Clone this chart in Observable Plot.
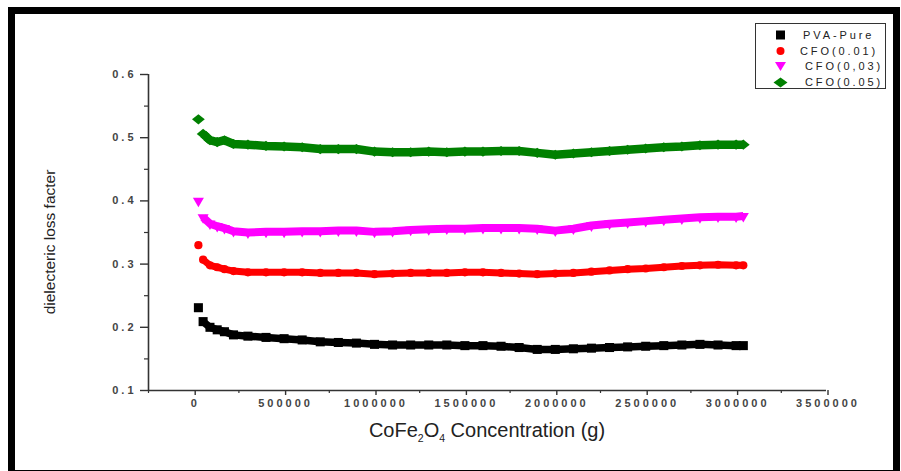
<!DOCTYPE html>
<html>
<head>
<meta charset="utf-8">
<script src="https://cdn.jsdelivr.net/npm/d3@7"></script>
<script src="https://cdn.jsdelivr.net/npm/@observablehq/plot@0.6"></script>
<style>
  html, body { margin: 0; padding: 0; background: #fff; }
  #wrap { position: relative; width: 901px; height: 471px; overflow: hidden; font-family: Arial, "Liberation Sans", sans-serif; }
  #frame { position: absolute; left: 8px; top: 7px; width: 892px; height: 470px; box-sizing: border-box; border: 7px solid #000; }
  #chart { position: absolute; left: 0; top: 0; }
  #chart svg text { font-family: Arial, "Liberation Sans", sans-serif; font-size: 11px; font-weight: bold; letter-spacing: 3px; }
  #ylab { position: absolute; left: 50px; top: 241.5px; transform: translate(-50%, -50%) rotate(-90deg); font-size: 15.5px; line-height: 15.5px; color: #222; white-space: nowrap; }
  #xlab { position: absolute; left: 487px; top: 420px; transform: translateX(-50%); font-size: 20px; line-height: 20px; color: #222; white-space: nowrap; }
  #xlab sub { font-size: 10.5px; vertical-align: -5px; line-height: 0; }
  #legend { position: absolute; left: 755px; top: 23px; width: 131px; height: 66px; box-sizing: border-box; border: 1.5px solid #333; background: #fff; }
  .lrow { position: absolute; left: 0; height: 14px; width: 100%; }
  .lrow svg { position: absolute; left: 17px; top: 0; }
  .lrow span { position: absolute; top: 0; font-size: 11px; line-height: 14px; letter-spacing: 2.9px; color: #222; white-space: nowrap; }
</style>
</head>
<body>
<div id="wrap">
  <div id="frame"></div>
  <div id="chart"></div>
  <div id="ylab">dielecteric loss facter</div>
  <div id="xlab">CoFe<sub>2</sub>O<sub>4</sub> Concentration (g)</div>
  <div id="legend"></div>
</div>
<script>
// ---- data ----
const concentration = [26000, 52000, 90000, 130000, 170000, 220000, 300000, 400000, 500000, 600000,
  700000, 800000, 900000, 1000000, 1100000, 1200000, 1300000, 1400000, 1500000, 1600000,
  1700000, 1800000, 1900000, 2000000, 2100000, 2200000, 2300000, 2400000, 2500000, 2600000,
  2700000, 2800000, 2900000, 3000000, 3040000];
const pvaPure = [0.231, 0.209, 0.200, 0.196, 0.193, 0.188, 0.186, 0.184, 0.182, 0.180,
  0.177, 0.176, 0.175, 0.173, 0.172, 0.172, 0.172, 0.172, 0.171, 0.171,
  0.170, 0.168, 0.165, 0.165, 0.166, 0.167, 0.168, 0.169, 0.170, 0.171,
  0.172, 0.173, 0.172, 0.171, 0.171];
const cfo001 = [0.330, 0.307, 0.298, 0.295, 0.292, 0.289, 0.287, 0.287, 0.287, 0.287,
  0.286, 0.286, 0.286, 0.284, 0.285, 0.286, 0.286, 0.286, 0.287, 0.287,
  0.286, 0.285, 0.284, 0.285, 0.286, 0.288, 0.290, 0.292, 0.293, 0.295,
  0.297, 0.298, 0.299, 0.298, 0.298];
const cfo003 = [0.400, 0.374, 0.364, 0.360, 0.357, 0.352, 0.350, 0.351, 0.351, 0.352,
  0.352, 0.353, 0.353, 0.351, 0.352, 0.354, 0.355, 0.356, 0.356, 0.357,
  0.357, 0.357, 0.356, 0.353, 0.356, 0.361, 0.364, 0.366, 0.368, 0.370,
  0.372, 0.374, 0.375, 0.375, 0.376];
const cfo005 = [0.529, 0.506, 0.496, 0.493, 0.496, 0.490, 0.489, 0.487, 0.486, 0.485,
  0.482, 0.482, 0.482, 0.478, 0.477, 0.477, 0.478, 0.477, 0.478, 0.478,
  0.479, 0.479, 0.476, 0.473, 0.475, 0.477, 0.479, 0.481, 0.483, 0.485,
  0.486, 0.488, 0.489, 0.489, 0.489];
const seriesNames = ["PVA-Pure", "CFO(0.01)", "CFO(0,03)", "CFO(0.05)"];
const seriesColors = ["#000000", "#ff0000", "#ff00ff", "#008000"];
const xTicks = [0, 500000, 1000000, 1500000, 2000000, 2500000, 3000000, 3500000];
const xMinorTicks = [-250000, 250000, 750000, 1250000, 1750000, 2250000, 2750000, 3250000];
const yTicks = [0.1, 0.2, 0.3, 0.4, 0.5, 0.6];
const yMinorTicks = [0.15, 0.25, 0.35, 0.45, 0.55];

// ---- build rows ----
const seriesValues = [pvaPure, cfo001, cfo003, cfo005];
const rows = seriesValues.map((vals, s) =>
  vals.map((v, i) => ({series: seriesNames[s], x: concentration[i], y: v, i})));

// wide, short diamond
const wideDiamond = {
  draw(ctx, size) {
    const s = Math.sqrt(size);
    const hw = 0.72 * s, hh = 0.57 * s;
    ctx.moveTo(0, -hh); ctx.lineTo(hw, 0); ctx.lineTo(0, hh); ctx.lineTo(-hw, 0); ctx.closePath();
  }
};
const symbols = ["square", "circle", "triangle", wideDiamond];
const radii = [5.1, 4.1, 4.1, 5];
const rotates = [0, 0, 180, 0];
const bandWidths = [7.5, 7, 8, 8.5];

const marks = [];
rows.forEach((data, s) => {
  marks.push(Plot.line(data.filter(d => d.i >= 1), {
    x: "x", y: "y", stroke: seriesColors[s], strokeWidth: bandWidths[s],
    strokeLinejoin: "round", strokeLinecap: "butt", curve: "linear"
  }));
  marks.push(Plot.dot(data, {
    x: "x", y: "y", symbol: () => symbols[s], r: radii[s], rotate: rotates[s],
    fill: seriesColors[s], stroke: "none"
  }));
});

const tickFont = {fontFamily: "Arial, 'Liberation Sans', sans-serif", fontSize: 11, fontWeight: "bold"};

const chart = Plot.plot({
  width: 901,
  height: 471,
  marginLeft: 148,
  marginRight: 75,
  marginTop: 74,
  marginBottom: 81,
  x: {domain: [-250000, 3500000]},
  y: {domain: [0.1, 0.6]},
  symbol: {type: "identity"},
  style: {background: "transparent", color: "#444", overflow: "visible"},
  marks: [
    ...marks,
    Plot.ruleX([-250000], {stroke: "#333", strokeWidth: 1.6}),
    Plot.ruleY([0.1], {stroke: "#333", strokeWidth: 1.6}),
    Plot.axisX(xTicks, {tickSize: 5, tickPadding: 4, tickFormat: d3.format("d"), dx: 1.5, label: null, stroke: "#333", strokeWidth: 1.4, fill: "#444", ...tickFont}),
    Plot.axisX(xMinorTicks, {tickSize: 3, tickFormat: () => "", label: null, stroke: "#333", strokeWidth: 1.2}),
    Plot.axisY(yTicks, {tickSize: 8, tickPadding: 4, tickFormat: d3.format(".1f"), label: null, stroke: "#333", strokeWidth: 1.4, fill: "#444", ...tickFont}),
    Plot.axisY(yMinorTicks, {tickSize: 4, tickFormat: () => "", label: null, stroke: "#333", strokeWidth: 1.2})
  ]
});
document.getElementById("chart").appendChild(chart);

// ---- legend ----
const legend = document.getElementById("legend");
const symbolSvgs = [
  '<rect x="3" y="2.5" width="9" height="9" fill="#000"/>',
  '<circle cx="7.5" cy="7" r="4" fill="#ff0000"/>',
  '<path d="M2,3 L13,3 L7.5,12 Z" fill="#ff00ff"/>',
  '<path d="M0.5,7.5 L7.5,2.5 L14.5,7.5 L7.5,12.5 Z" fill="#008000"/>'
];
const rowTops = [4, 19.5, 35, 50.5];
const textLefts = [47, 44, 49, 49];
seriesNames.forEach((name, k) => {
  const row = document.createElement("div");
  row.className = "lrow";
  row.style.top = rowTops[k] + "px";
  row.innerHTML = '<svg width="15" height="14" viewBox="0 0 15 14">' + symbolSvgs[k] + '</svg>' +
    '<span style="left:' + textLefts[k] + 'px">' + name + '</span>';
  legend.appendChild(row);
});
</script>
</body>
</html>
